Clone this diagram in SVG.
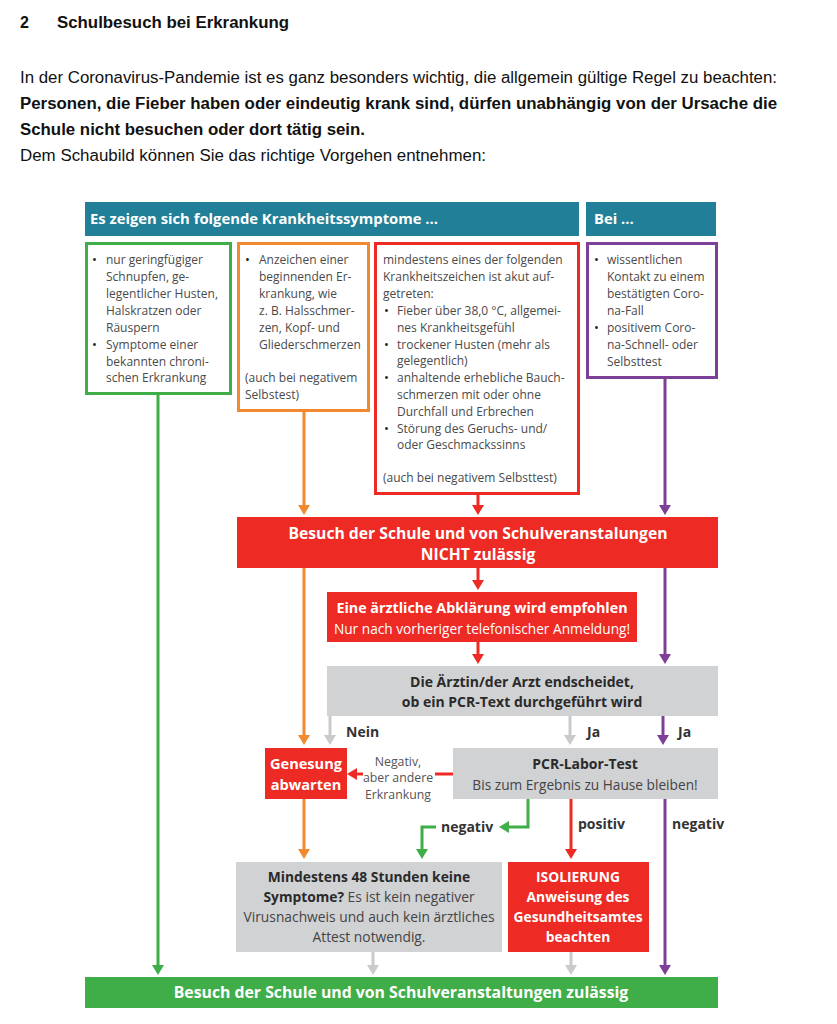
<svg xmlns="http://www.w3.org/2000/svg" width="837" height="1024" viewBox="0 0 837 1024">
<style>
.intro{font-family:"Liberation Sans",Arial,sans-serif;font-size:16px;fill:#111}
.b{font-weight:bold}
.f{font-family:"Open Sans","Noto Sans",sans-serif}
.body{font-size:12px;fill:#4a4a4a}
.bu{fill:#222;font-size:13px}
.hd{font-size:14.8px;font-weight:bold;fill:#fff}
.wb{font-weight:bold;fill:#fff}
.db{font-weight:bold;fill:#2a2a2a}
.dg{fill:#444}
.lab{font-size:14px;font-weight:bold;fill:#333}
.c{text-anchor:middle}
.teal{fill:#217f97}
.red{fill:#ee2a24}
.gray{fill:#d1d2d4}
.grn{fill:#3fae49}
.ln{fill:none;stroke-width:3}
</style>
<defs>
<marker id="aG" viewBox="0 0 10 12" refX="2" refY="6" markerWidth="10" markerHeight="12" markerUnits="userSpaceOnUse" orient="auto" preserveAspectRatio="none"><path d="M0,0 L10,6 L0,12 z" fill="#3fae49"/></marker>
<marker id="aO" viewBox="0 0 10 12" refX="2" refY="6" markerWidth="10" markerHeight="12" markerUnits="userSpaceOnUse" orient="auto" preserveAspectRatio="none"><path d="M0,0 L10,6 L0,12 z" fill="#f0892f"/></marker>
<marker id="aR" viewBox="0 0 10 12" refX="2" refY="6" markerWidth="10" markerHeight="12" markerUnits="userSpaceOnUse" orient="auto" preserveAspectRatio="none"><path d="M0,0 L10,6 L0,12 z" fill="#ee2a24"/></marker>
<marker id="aP" viewBox="0 0 10 12" refX="2" refY="6" markerWidth="10" markerHeight="12" markerUnits="userSpaceOnUse" orient="auto" preserveAspectRatio="none"><path d="M0,0 L10,6 L0,12 z" fill="#7e3f98"/></marker>
<marker id="aY" viewBox="0 0 10 12" refX="2" refY="6" markerWidth="10" markerHeight="12" markerUnits="userSpaceOnUse" orient="auto" preserveAspectRatio="none"><path d="M0,0 L10,6 L0,12 z" fill="#c9cacc"/></marker>
</defs>
<rect width="837" height="1024" fill="#fff"/>

<g id="intro">
<text class="intro b" x="20" y="28">2</text>
<text class="intro b" x="57" y="28" textLength="232" lengthAdjust="spacingAndGlyphs">Schulbesuch bei Erkrankung</text>
<text class="intro" x="20" y="83" textLength="757" lengthAdjust="spacingAndGlyphs">In der Coronavirus-Pandemie ist es ganz besonders wichtig, die allgemein gültige Regel zu beachten:</text>
<text class="intro b" x="20" y="109" textLength="757" lengthAdjust="spacingAndGlyphs">Personen, die Fieber haben oder eindeutig krank sind, dürfen unabhängig von der Ursache die</text>
<text class="intro b" x="20" y="135" textLength="345" lengthAdjust="spacingAndGlyphs">Schule nicht besuchen oder dort tätig sein.</text>
<text class="intro" x="20" y="161" textLength="466" lengthAdjust="spacingAndGlyphs">Dem Schaubild können Sie das richtige Vorgehen entnehmen:</text>
</g>

<g id="header-symptome">
<rect class="teal" x="85" y="202" width="494" height="34"/>
<text class="f hd" x="90" y="224">Es zeigen sich folgende Krankheitssymptome ...</text>
</g>
<g id="header-bei">
<rect class="teal" x="586" y="202" width="130" height="34"/>
<text class="f hd" x="594" y="224">Bei ...</text>
</g>

<g id="box-green">
<rect x="86.5" y="243.5" width="144" height="150" fill="#fff" stroke="#3fae49" stroke-width="3"/>
<g class="f body">
<text class="bu" x="92" y="264">•</text><text x="106" y="264">nur geringfügiger</text>
<text x="106" y="281">Schnupfen, ge-</text>
<text x="106" y="298">legentlicher Husten,</text>
<text x="106" y="315">Halskratzen oder</text>
<text x="106" y="332">Räuspern</text>
<text class="bu" x="92" y="349">•</text><text x="106" y="349">Symptome einer</text>
<text x="106" y="366">bekannten chroni-</text>
<text x="106" y="382">schen Erkrankung</text>
</g>
</g>

<g id="box-orange">
<rect x="238.5" y="243.5" width="130" height="167" fill="#fff" stroke="#f0892f" stroke-width="3"/>
<g class="f body">
<text class="bu" x="245" y="264">•</text><text x="259" y="264">Anzeichen einer</text>
<text x="259" y="281">beginnenden Er-</text>
<text x="259" y="298">krankung, wie</text>
<text x="259" y="315">z. B. Halsschmer-</text>
<text x="259" y="332">zen, Kopf- und</text>
<text x="259" y="349">Gliederschmerzen</text>
<text x="245" y="382">(auch bei negativem</text>
<text x="245" y="399">Selbstest)</text>
</g>
</g>

<g id="box-red">
<rect x="375.5" y="243.5" width="203" height="250" fill="#fff" stroke="#ee2a24" stroke-width="3"/>
<g class="f body">
<text x="383" y="264">mindestens eines der folgenden</text>
<text x="383" y="281">Krankheitszeichen ist akut auf-</text>
<text x="383" y="298">getreten:</text>
<text class="bu" x="384" y="315">•</text><text x="397" y="315">Fieber über 38,0 °C, allgemei-</text>
<text x="397" y="332">nes Krankheitsgefühl</text>
<text class="bu" x="384" y="349">•</text><text x="397" y="349">trockener Husten (mehr als</text>
<text x="397" y="365">gelegentlich)</text>
<text class="bu" x="384" y="382">•</text><text x="397" y="382">anhaltende erhebliche Bauch-</text>
<text x="397" y="399">schmerzen mit oder ohne</text>
<text x="397" y="416">Durchfall und Erbrechen</text>
<text class="bu" x="384" y="433">•</text><text x="397" y="433">Störung des Geruchs- und/</text>
<text x="397" y="449">oder Geschmackssinns</text>
<text x="383" y="482">(auch bei negativem Selbsttest)</text>
</g>
</g>

<g id="box-purple">
<rect x="587.5" y="243.5" width="129" height="134" fill="#fff" stroke="#7e3f98" stroke-width="3"/>
<g class="f body">
<text class="bu" x="594" y="264">•</text><text x="607" y="264">wissentlichen</text>
<text x="607" y="281">Kontakt zu einem</text>
<text x="607" y="298">bestätigten Coro-</text>
<text x="607" y="315">na-Fall</text>
<text class="bu" x="594" y="332">•</text><text x="607" y="332">positivem Coro-</text>
<text x="607" y="349">na-Schnell- oder</text>
<text x="607" y="366">Selbsttest</text>
</g>
</g>

<g id="not-allowed">
<rect class="red" x="237" y="517" width="481" height="51"/>
<text class="f wb c" x="478" y="539" font-size="15.7">Besuch der Schule und von Schulveranstalungen</text>
<text class="f wb c" x="478" y="560" font-size="15.7">NICHT zulässig</text>
</g>

<g id="arzt-empfohlen">
<rect class="red" x="327" y="592" width="310" height="50"/>
<text class="f wb c" x="482" y="613" font-size="14.3">Eine ärztliche Abklärung wird empfohlen</text>
<text class="f c" x="482" y="634" font-size="13.7" fill="#fff">Nur nach vorheriger telefonischer Anmeldung!</text>
</g>

<g id="arzt-entscheidet">
<rect class="gray" x="327" y="666" width="391" height="50"/>
<text class="f db c" x="522" y="687" font-size="14">Die Ärztin/der Arzt endscheidet,</text>
<text class="f db c" x="522" y="707" font-size="14">ob ein PCR-Text durchgeführt wird</text>
</g>

<g id="genesung">
<rect class="red" x="265" y="748" width="82" height="51"/>
<text class="f wb c" x="306" y="769" font-size="14.6">Genesung</text>
<text class="f wb c" x="306" y="790" font-size="14.6">abwarten</text>
</g>

<g id="pcr-test">
<rect class="gray" x="453" y="748" width="265" height="51"/>
<text class="f db c" x="585" y="769" font-size="14">PCR-Labor-Test</text>
<text class="f dg c" x="585" y="790" font-size="13.7">Bis zum Ergebnis zu Hause bleiben!</text>
</g>

<g id="keine-symptome">
<rect class="gray" x="236" y="862" width="266" height="90"/>
<text class="f db c" x="369" y="882" font-size="13.8">Mindestens 48 Stunden keine</text>
<text class="f dg c" x="369" y="902" font-size="13.8"><tspan font-weight="bold" fill="#2a2a2a">Symptome?</tspan> Es ist kein negativer</text>
<text class="f dg c" x="369" y="922" font-size="13.8">Virusnachweis und auch kein ärztliches</text>
<text class="f dg c" x="369" y="942" font-size="13.8">Attest notwendig.</text>
</g>

<g id="isolierung">
<rect class="red" x="508" y="862" width="141" height="90"/>
<text class="f wb c" x="578" y="882" font-size="13.8">ISOLIERUNG</text>
<text class="f wb c" x="578" y="902" font-size="13.8">Anweisung des</text>
<text class="f wb c" x="578" y="922" font-size="13.8">Gesundheitsamtes</text>
<text class="f wb c" x="578" y="942" font-size="13.8">beachten</text>
</g>

<g id="allowed">
<rect class="grn" x="85" y="977" width="633" height="31"/>
<text class="f wb c" x="401" y="998" font-size="15.8">Besuch der Schule und von Schulveranstaltungen zulässig</text>
</g>

<g id="connectors">
<line class="ln" stroke="#3fae49" x1="158" y1="394" x2="158" y2="967" marker-end="url(#aG)"/>
<line class="ln" stroke="#f0892f" x1="304" y1="411" x2="304" y2="507" marker-end="url(#aO)"/>
<line class="ln" stroke="#ee2a24" x1="478" y1="495" x2="478" y2="507" marker-end="url(#aR)"/>
<line class="ln" stroke="#7e3f98" x1="665" y1="378" x2="665" y2="507" marker-end="url(#aP)"/>
<line class="ln" stroke="#ee2a24" x1="478" y1="568" x2="478" y2="582" marker-end="url(#aR)"/>
<line class="ln" stroke="#ee2a24" x1="478" y1="642" x2="478" y2="656" marker-end="url(#aR)"/>
<line class="ln" stroke="#f0892f" x1="304" y1="568" x2="304" y2="737" marker-end="url(#aO)"/>
<line class="ln" stroke="#7e3f98" x1="665" y1="568" x2="665" y2="656" marker-end="url(#aP)"/>
<line class="ln" stroke="#c9cacc" x1="330" y1="716" x2="330" y2="737" marker-end="url(#aY)"/>
<line class="ln" stroke="#c9cacc" x1="570" y1="716" x2="570" y2="737" marker-end="url(#aY)"/>
<line class="ln" stroke="#7e3f98" x1="663" y1="716" x2="663" y2="737" marker-end="url(#aP)"/>
<line class="ln" stroke="#ee2a24" x1="453" y1="774" x2="435" y2="774"/>
<line class="ln" stroke="#ee2a24" x1="363" y1="774" x2="355" y2="774" marker-end="url(#aR)"/>
<line class="ln" stroke="#f0892f" x1="304" y1="799" x2="304" y2="851" marker-end="url(#aO)"/>
<polyline class="ln" stroke="#3fae49" points="528,799 528,827 507,827" marker-end="url(#aG)"/>
<polyline class="ln" stroke="#3fae49" points="436,827 422,827 422,851" marker-end="url(#aG)"/>
<line class="ln" stroke="#ee2a24" x1="571" y1="799" x2="571" y2="851" marker-end="url(#aR)"/>
<line class="ln" stroke="#7e3f98" x1="665" y1="799" x2="665" y2="967" marker-end="url(#aP)"/>
<line class="ln" stroke="#c9cacc" x1="373" y1="952" x2="373" y2="967" marker-end="url(#aY)"/>
<line class="ln" stroke="#c9cacc" x1="571" y1="952" x2="571" y2="967" marker-end="url(#aY)"/>
<g class="f">
<text class="lab" x="346" y="737">Nein</text>
<text class="lab" x="587" y="737">Ja</text>
<text class="lab" x="678" y="737">Ja</text>
<text class="c" x="398" y="766" font-size="12.3" fill="#555">Negativ,</text>
<text class="c" x="398" y="782" font-size="12.3" fill="#555">aber andere</text>
<text class="c" x="398" y="799" font-size="12.3" fill="#555">Erkrankung</text>
<text class="lab" x="441" y="832">negativ</text>
<text class="lab" x="578" y="829">positiv</text>
<text class="lab" x="672" y="829">negativ</text>
</g>
</g>
</svg>
